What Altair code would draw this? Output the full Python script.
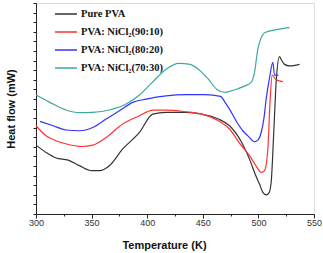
import altair as alt
import pandas as pd

series_names = ["Pure PVA", "PVA: NiCl\u2082(90:10)", "PVA: NiCl\u2082(80:20)", "PVA: NiCl\u2082(70:30)"]
series_colors = ["#333333", "#ff3333", "#3333ff", "#3ea89e"]

pva_t = [300, 309, 318, 329, 339, 350, 357, 366, 378, 393, 405, 417, 435, 449, 464, 474, 485, 492, 498, 501, 504, 507, 509.5, 511.5, 514, 516, 519, 521, 523.5, 528, 537]
pva_v = [3.59, 3.21, 2.92, 2.81, 2.52, 2.26, 2.26, 2.52, 3.39, 4.25, 5.21, 5.30, 5.30, 5.21, 4.95, 4.6, 3.73, 2.86, 1.95, 1.56, 1.13, 1.0, 1.1, 1.67, 4.5, 6.9, 8.2, 8.0, 7.8, 7.72, 7.8]

n90_t = [300, 309, 318, 330, 341, 351, 363, 378, 393, 405, 417, 435, 449, 464, 474, 483, 492, 498, 502.5, 505.5, 508.5, 510.6, 512.4, 516, 522]
n90_v = [4.60, 4.08, 3.82, 3.61, 3.52, 3.59, 3.99, 4.69, 5.12, 5.42, 5.42, 5.33, 5.21, 4.86, 4.43, 3.7, 3.04, 2.5, 2.17, 2.26, 3.39, 6.0, 7.24, 7.0, 6.9]

n80_t = [303.5, 315.5, 327, 339, 351, 363, 375, 387, 399, 417, 435, 452, 466, 470, 474, 480, 486, 491, 496.5, 499.5, 502.5, 505, 507, 510, 513, 514.5, 518]
n80_v = [4.83, 4.60, 4.38, 4.34, 4.51, 4.95, 5.38, 5.82, 5.99, 6.16, 6.22, 6.22, 6.13, 5.82, 5.47, 4.85, 4.34, 4.05, 3.77, 3.85, 4.25, 5.0, 6.0, 7.1, 7.9, 7.24, 7.24]

n70_t = [300, 312.5, 327, 339, 351, 366, 381, 393, 405, 417, 428.5, 437.5, 446, 455, 463, 470, 479, 488, 493.5, 496.5, 499.5, 502, 506, 515, 528]
n70_v = [6.20, 5.82, 5.42, 5.28, 5.30, 5.42, 5.73, 6.20, 6.89, 7.55, 7.85, 7.81, 7.55, 7.03, 6.48, 6.34, 6.48, 6.68, 6.86, 7.38, 8.6, 9.11, 9.46, 9.60, 9.72]

x_ticks = [300, 325, 350, 375, 400, 425, 450, 475, 500, 525, 550]
y_ticks = [i * 0.5 for i in range(23)]

rows = []
for name, ts, vs in zip(series_names, [pva_t, n90_t, n80_t, n70_t], [pva_v, n90_v, n80_v, n70_v]):
    for i, (t, v) in enumerate(zip(ts, vs)):
        rows.append({"series": name, "T": t, "v": v, "i": i})
df = pd.DataFrame(rows)

chart = alt.Chart(df).mark_line(strokeWidth=1.2, interpolate="monotone").encode(
    x=alt.X("T:Q", scale=alt.Scale(domain=[300, 550], nice=False, zero=False),
            axis=alt.Axis(title="Temperature (K)", values=x_ticks, grid=False,
                          labelExpr="datum.value % 50 === 0 ? datum.label : ''",
                          tickSize={"condition": {"test": "datum.value % 50 === 0", "value": 4}, "value": 2},
                          labelFont="Liberation Sans", labelFontSize=9, labelColor="#333333",
                          labelPadding=0, labelFlush=False,
                          titleFont="Liberation Sans", titleFontSize=11, titleFontWeight="bold",
                          titleColor="#111111", titlePadding=12, titleX=128,
                          domainColor="#222222", tickColor="#222222")),
    y=alt.Y("v:Q", scale=alt.Scale(domain=[0, 11], nice=False, zero=False),
            axis=alt.Axis(title="Heat flow (mW)", values=y_ticks, labels=False, grid=False,
                          tickSize=3, titleFont="Liberation Sans", titleFontSize=11,
                          titleFontWeight="bold", titleColor="#111111", titlePadding=16,
                          domainColor="#222222", tickColor="#222222")),
    color=alt.Color("series:N", scale=alt.Scale(domain=series_names, range=series_colors),
                    legend=alt.Legend(title=None, orient="none", legendX=18, legendY=-1,
                                      symbolType="stroke", symbolSize=484, symbolStrokeWidth=1.5,
                                      labelFont="Liberation Serif", labelFontSize=10.5,
                                      labelFontWeight="bold", labelColor="#111111",
                                      rowPadding=-9, labelOffset=3, padding=0, labelLimit=200)),
    order="i:Q",
).properties(
    width=278, height=211,
    autosize=alt.AutoSizeParams(type="none"),
    padding={"left": 36, "top": 3, "right": 9, "bottom": 39},
).configure_view(stroke="#222222", strokeWidth=1).configure(background="white")

chart.save("out.html", embed_options={"renderer": "svg", "actions": False})
